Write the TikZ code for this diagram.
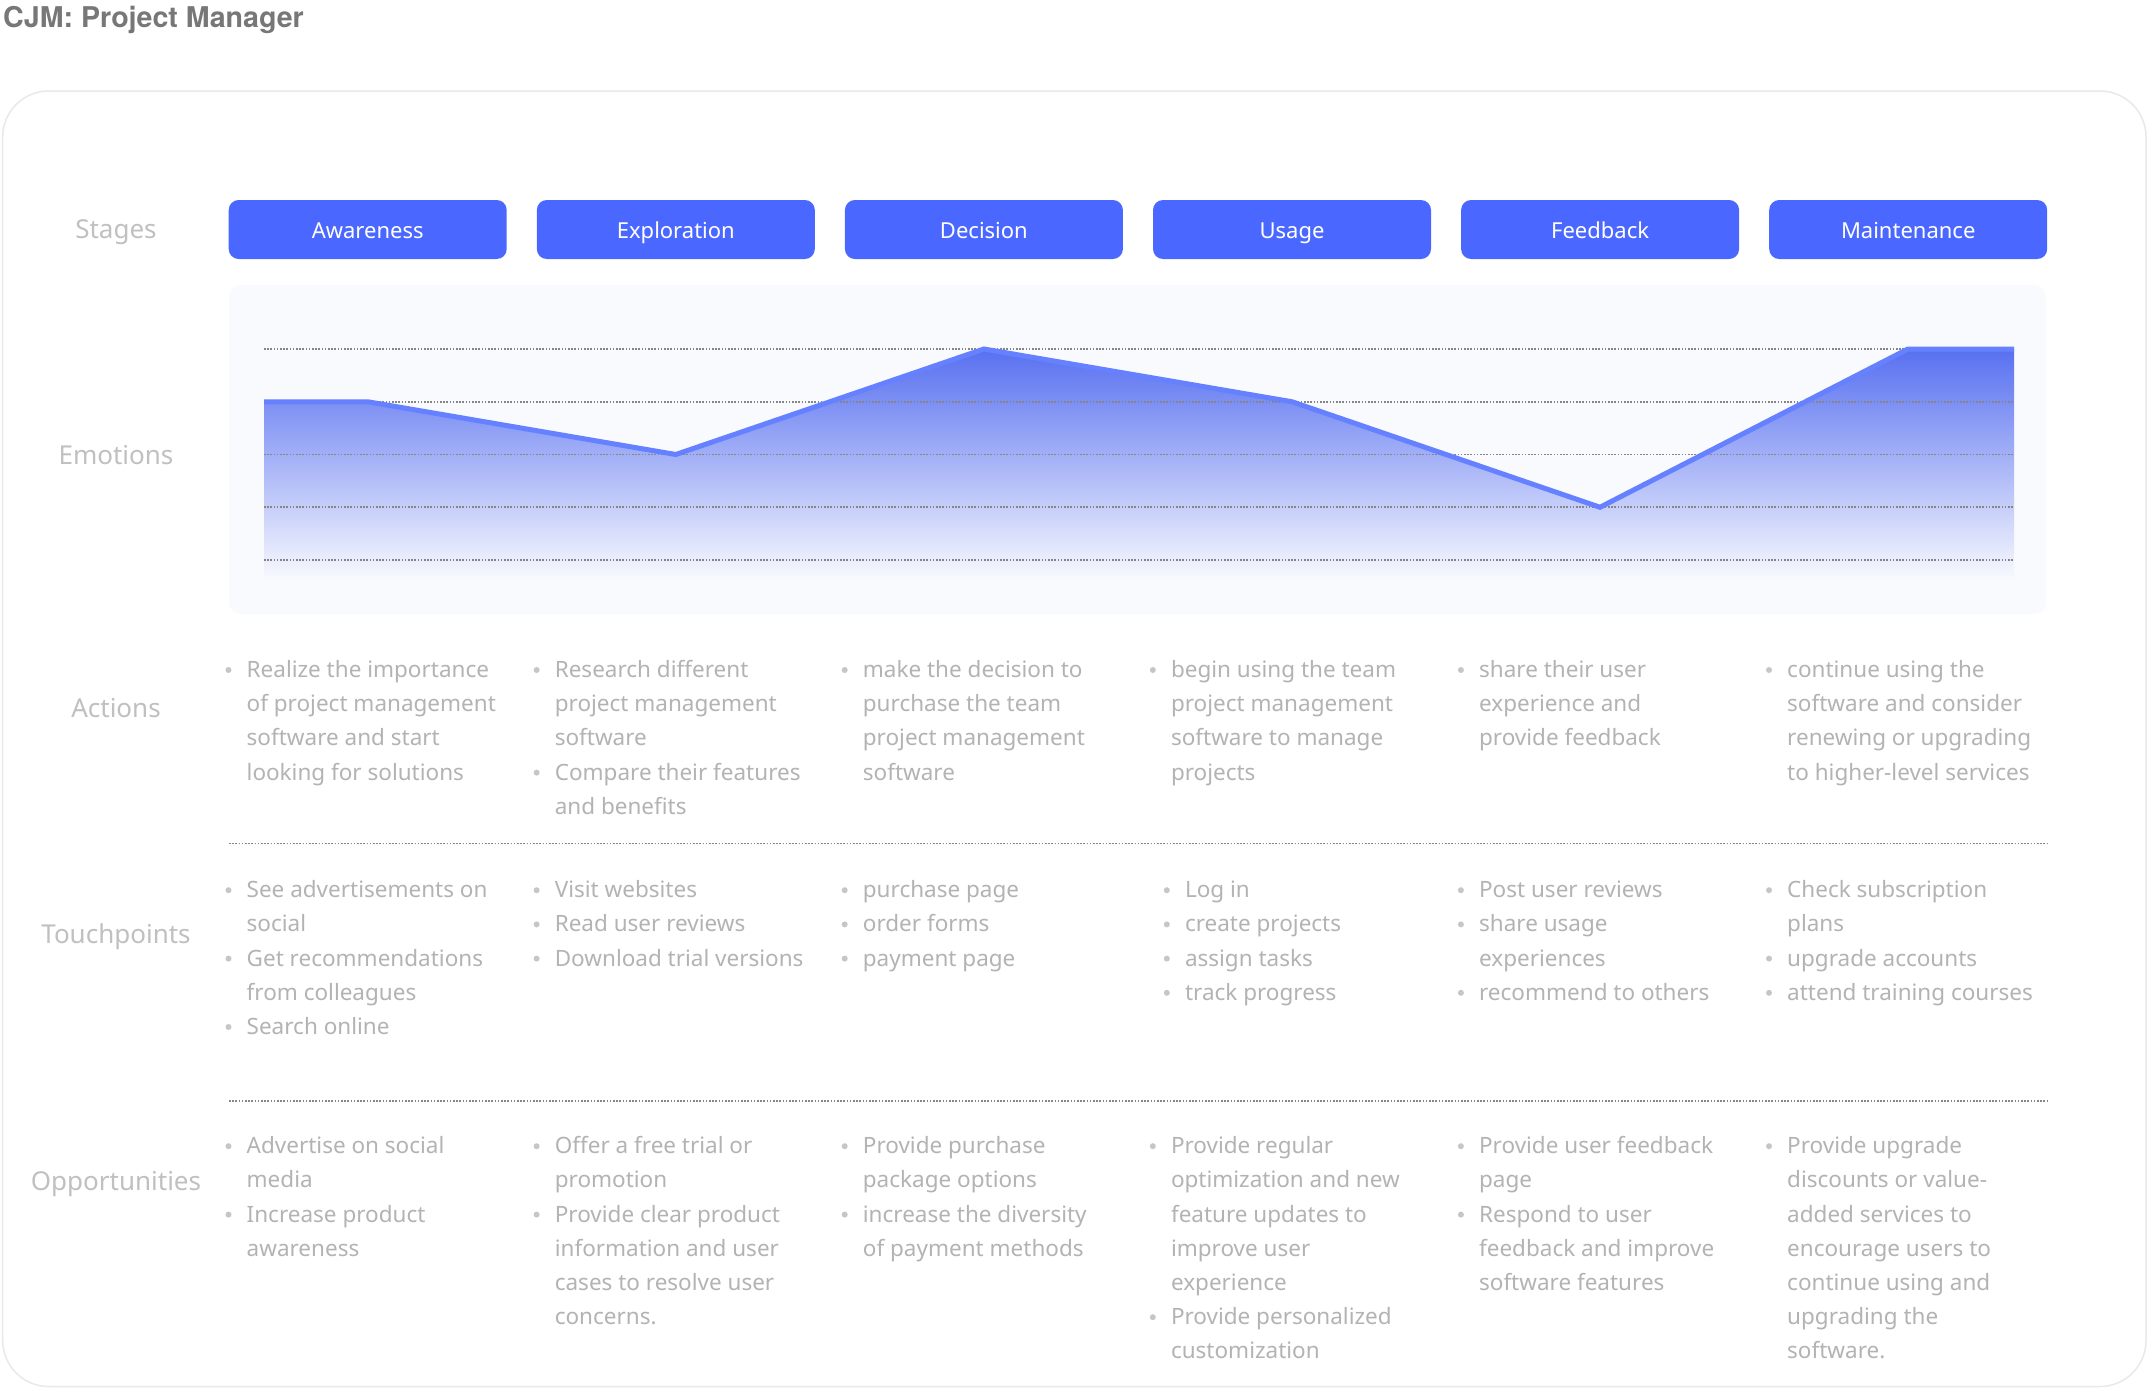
\documentclass[tikz,border=0pt]{standalone}
\usepackage{fontspec}
\setmainfont{Noto Sans}
\newfontfamily\cjmtitlefont{TeX Gyre Heros}
\definecolor{btnblue}{HTML}{4A68FF}
\definecolor{lineblue}{HTML}{6681FF}
\definecolor{titlec}{HTML}{777777}
\definecolor{labelc}{HTML}{C0C0C0}
\definecolor{bodyc}{HTML}{B3B3B3}
\definecolor{bulletc}{HTML}{C6C6C6}
\definecolor{panelc}{HTML}{F9FAFE}
\definecolor{gridc}{HTML}{858585}
\definecolor{framec}{HTML}{E9E9E9}
\definecolor{shadetop}{HTML}{5870F0}
\definecolor{shademid}{HTML}{A3AADB}
\newcommand{\cjmitem}[6]{%
  \node[body] (#1) at ({246.5+308.1*#2+#5},{#3+34.2*#4}) {\begin{tabular}[t]{@{}l@{}}#6\end{tabular}};
  \fill[bulletc] ({246.5+308.1*#2+#5-18},{#3+34.2*#4-7.5}) circle (3pt);
}
\begin{document}
\begin{tikzpicture}[x=1pt,y=-1pt,
  stagebox/.style={rectangle, rounded corners=10pt, fill=btnblue, text=white,
    minimum width=278pt, minimum height=59pt, inner sep=0pt,
    font=\fontsize{22}{26}\selectfont, text height=17.5pt, text depth=0pt},
  rowlabel/.style={anchor=base, inner sep=0pt, text=labelc, font=\fontsize{26}{30}\selectfont},
  body/.style={anchor=base west, inner sep=0pt, text=bodyc, font=\fontsize{22.5}{34.2}\selectfont},
  gridline/.style={draw=gridc, line width=1.6pt, dash pattern=on 1.6pt off 1.6pt},
  sepline/.style={draw=gridc, line width=1.6pt, dash pattern=on 1.6pt off 1.6pt},
]
\fill[white] (0,0) rectangle (2147,1389);
\useasboundingbox (0,0) rectangle (2147,1389);

% title
\node[anchor=base west, inner sep=0pt, text=titlec, font=\cjmtitlefont\fontsize{28.6}{33}\selectfont\bfseries] (title) at (3,27.3) {CJM: Project Manager};

% outer frame
\draw[framec, line width=1.5pt, rounded corners=46pt] (2.7,91) rectangle (2146,1386.5);

% row labels
\node[rowlabel] (lstages) at (116,238.3) {Stages};
\node[rowlabel] (lemo) at (116,464) {Emotions};
\node[rowlabel] (lact) at (116,717) {Actions};
\node[rowlabel] (ltouch) at (116,943) {Touchpoints};
\node[rowlabel] (lopp) at (116,1190) {Opportunities};

% stages
\foreach \n/\t [count=\i from 0] in {s1/Awareness,s2/Exploration,s3/Decision,s4/Usage,s5/Feedback,s6/Maintenance}
  \node[stagebox] (\n) at ({367.7+308.1*\i},229.5) {\t};

% emotions panel
\fill[panelc, rounded corners=12pt] (229,285) rectangle (2046,614);
\coordinate (e0) at (264,401.75);
\coordinate (e1) at (367.7,401.75);
\coordinate (e2) at (675.8,454.5);
\coordinate (e3) at (983.9,349);
\coordinate (e4) at (1292,401.75);
\coordinate (e5) at (1600,507.25);
\coordinate (e6) at (1908,349);
\coordinate (e7) at (2014,349);
\coordinate (eb1) at (2014,580);
\coordinate (eb0) at (264,580);
\shade[top color=shadetop, middle color=shademid, bottom color=panelc]
  (e0) -- (e1) -- (e2) -- (e3) -- (e4) -- (e5) -- (e6) -- (e7) -- (eb1) -- (eb0) -- cycle;
\foreach \k in {0,...,4}
  \draw[gridline] (264,{349+52.75*\k}) -- (2014,{349+52.75*\k});
\draw[lineblue, line width=5pt] (e0) -- (e1) -- (e2) -- (e3) -- (e4) -- (e5) -- (e6) -- (e7);

% separators
\draw[sepline] (229,843.5) -- (2047,843.5);
\draw[sepline] (229,1101) -- (2047,1101);

\def\ya{677.5}
\def\yt{897.7}
\def\yo{1153.7}

% actions
\cjmitem{a1}{0}{\ya}{0}{0}{Realize the importance\\of project management\\software and start\\looking for solutions}
\cjmitem{a2a}{1}{\ya}{0}{0}{Research different\\project management\\software}
\cjmitem{a2b}{1}{\ya}{3}{0}{Compare their features\\and benefits}
\cjmitem{a3}{2}{\ya}{0}{0}{make the decision to\\purchase the team\\project management\\software}
\cjmitem{a4}{3}{\ya}{0}{0}{begin using the team\\project management\\software to manage\\projects}
\cjmitem{a5}{4}{\ya}{0}{0}{share their user\\experience and\\provide feedback}
\cjmitem{a6}{5}{\ya}{0}{0}{continue using the\\software and consider\\renewing or upgrading\\to higher-level services}

% touchpoints
\cjmitem{t1a}{0}{\yt}{0}{0}{See advertisements on\\social}
\cjmitem{t1b}{0}{\yt}{2}{0}{Get recommendations\\from colleagues}
\cjmitem{t1c}{0}{\yt}{4}{0}{Search online}
\cjmitem{t2a}{1}{\yt}{0}{0}{Visit websites}
\cjmitem{t2b}{1}{\yt}{1}{0}{Read user reviews}
\cjmitem{t2c}{1}{\yt}{2}{0}{Download trial versions}
\cjmitem{t3a}{2}{\yt}{0}{0}{purchase page}
\cjmitem{t3b}{2}{\yt}{1}{0}{order forms}
\cjmitem{t3c}{2}{\yt}{2}{0}{payment page}
\cjmitem{t4a}{3}{\yt}{0}{14}{Log in}
\cjmitem{t4b}{3}{\yt}{1}{14}{create projects}
\cjmitem{t4c}{3}{\yt}{2}{14}{assign tasks}
\cjmitem{t4d}{3}{\yt}{3}{14}{track progress}
\cjmitem{t5a}{4}{\yt}{0}{0}{Post user reviews}
\cjmitem{t5b}{4}{\yt}{1}{0}{share usage\\experiences}
\cjmitem{t5c}{4}{\yt}{3}{0}{recommend to others}
\cjmitem{t6a}{5}{\yt}{0}{0}{Check subscription\\plans}
\cjmitem{t6b}{5}{\yt}{2}{0}{upgrade accounts}
\cjmitem{t6c}{5}{\yt}{3}{0}{attend training courses}

% opportunities
\cjmitem{o1a}{0}{\yo}{0}{0}{Advertise on social\\media}
\cjmitem{o1b}{0}{\yo}{2}{0}{Increase product\\awareness}
\cjmitem{o2a}{1}{\yo}{0}{0}{Offer a free trial or\\promotion}
\cjmitem{o2b}{1}{\yo}{2}{0}{Provide clear product\\information and user\\cases to resolve user\\concerns.}
\cjmitem{o3a}{2}{\yo}{0}{0}{Provide purchase\\package options}
\cjmitem{o3b}{2}{\yo}{2}{0}{increase the diversity\\of payment methods}
\cjmitem{o4a}{3}{\yo}{0}{0}{Provide regular\\optimization and new\\feature updates to\\improve user\\experience}
\cjmitem{o4b}{3}{\yo}{5}{0}{Provide personalized\\customization}
\cjmitem{o5a}{4}{\yo}{0}{0}{Provide user feedback\\page}
\cjmitem{o5b}{4}{\yo}{2}{0}{Respond to user\\feedback and improve\\software features}
\cjmitem{o6a}{5}{\yo}{0}{0}{Provide upgrade\\discounts or value-\\added services to\\encourage users to\\continue using and\\upgrading the\\software.}
\end{tikzpicture}
\end{document}
